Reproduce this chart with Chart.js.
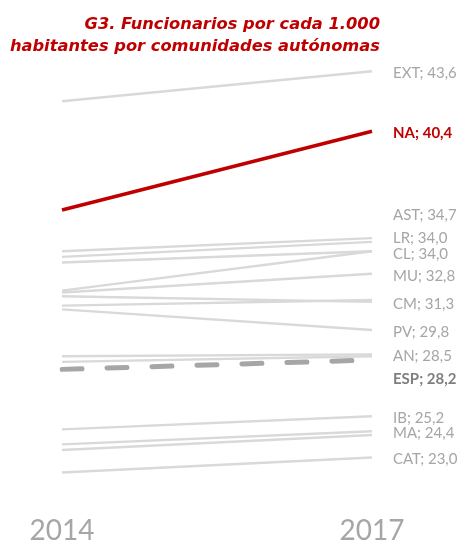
<!DOCTYPE html>
<html>
<head>
<meta charset="utf-8">
<script src="https://cdn.jsdelivr.net/npm/chart.js@4/dist/chart.umd.min.js"></script>
<style>
  html, body { margin: 0; padding: 0; background: #fff; }
  #wrap { position: relative; width: 468px; height: 543px; }
</style>
</head>
<body>
<div id="wrap"><canvas id="g3"></canvas></div>
<script>
// Datos (funcionarios por cada 1.000 habitantes)
var years = ['2014', '2017'];
var regions = ['EXT', 'NA', 'AST', '', 'CL', 'LR', 'MU', 'CM', '', 'PV', 'AN', '', 'ESP', 'IB', 'MA', '', 'CAT'];
var values2014 = [42.0, 36.2, 34.0, 33.7, 33.4, 31.9, 31.8, 31.6, 31.1, 30.9, 28.4, 28.1, 27.7, 24.5, 23.7, 23.4, 22.2];
var values2017 = [43.6, 40.4, 34.7, 34.5, 34.0, 34.0, 32.8, 31.3, 31.4, 29.8, 28.5, 28.4, 28.2, 25.2, 24.4, 24.2, 23.0];
var titleLines = ['G3. Funcionarios por cada 1.000', 'habitantes por comunidades autónomas'];

// desplazamiento vertical de algunas etiquetas para que no se pisen
var labelNudge = { AST: -25, LR: -15, CL: 1, ESP: 17 };

var RED = '#c00000';
var GREY = '#d9d9d9';

var datasets = regions.map(function (code, i) {
    var ds = {
        label: code,
        data: [values2014[i], values2017[i]],
        borderColor: GREY,
        borderWidth: 2.3,
        pointRadius: 0,
        tension: 0,
        order: 10
    };
    if (code === 'NA') {
        ds.borderColor = RED;
        ds.borderWidth = 3.5;
        ds.order = 0;
    }
    if (code === 'ESP') {
        ds.borderColor = '#a6a6a6';
        ds.borderWidth = 5;
        ds.borderDash = [20, 25];
        ds.borderCapStyle = 'round';
        ds.order = 1;
    }
    return ds;
});

var textPlugin = {
    id: 'textos',
    afterDraw: function (chart) {
        var ctx = chart.ctx;
        var area = chart.chartArea;
        var yScale = chart.scales.y;
        var xScale = chart.scales.x;
        ctx.save();

        // titulo
        ctx.fillStyle = RED;
        ctx.textAlign = 'right';
        ctx.textBaseline = 'middle';
        ctx.font = 'italic bold 16.3px "DejaVu Sans"';
        ctx.fillText(titleLines[0], 380, 25);
        ctx.fillText(titleLines[1], 380, 47);

        // etiquetas al final de cada linea
        ctx.textAlign = 'left';
        chart.data.datasets.forEach(function (ds) {
            if (!ds.label) return;
            var v = ds.data[ds.data.length - 1];
            var y = yScale.getPixelForValue(v) + 2 + (labelNudge[ds.label] || 0);
            var txt = ds.label + '; ' + v.toFixed(1).replace('.', ',');
            if (ds.label === 'NA') {
                ctx.font = 'bold 15px Lato';
                ctx.fillStyle = RED;
            } else if (ds.label === 'ESP') {
                ctx.font = 'bold 15px Lato';
                ctx.fillStyle = '#7f7f7f';
            } else {
                ctx.font = '15px Lato';
                ctx.fillStyle = '#a6a6a6';
            }
            ctx.fillText(txt, area.right + 21, y);
        });

        // años
        ctx.textAlign = 'center';
        ctx.font = '28px Lato';
        ctx.fillStyle = '#a6a6a6';
        years.forEach(function (yr, i) {
            ctx.fillText(yr, xScale.getPixelForValue(i), 531);
        });
        ctx.restore();
    }
};

var chart = new Chart(document.getElementById('g3'), {
    type: 'line',
    data: { labels: years, datasets: datasets },
    options: {
        responsive: true,
        maintainAspectRatio: false,
        animation: false,
        layout: { padding: { left: 62, right: 96, top: 45, bottom: 48 } },
        plugins: {
            legend: { display: false },
            tooltip: { enabled: false },
            title: { display: false }
        },
        scales: {
            x: { display: false, offset: false },
            y: { display: false, min: 21, max: 45 }
        }
    },
    plugins: [textPlugin]
});
</script>
</body>
</html>
